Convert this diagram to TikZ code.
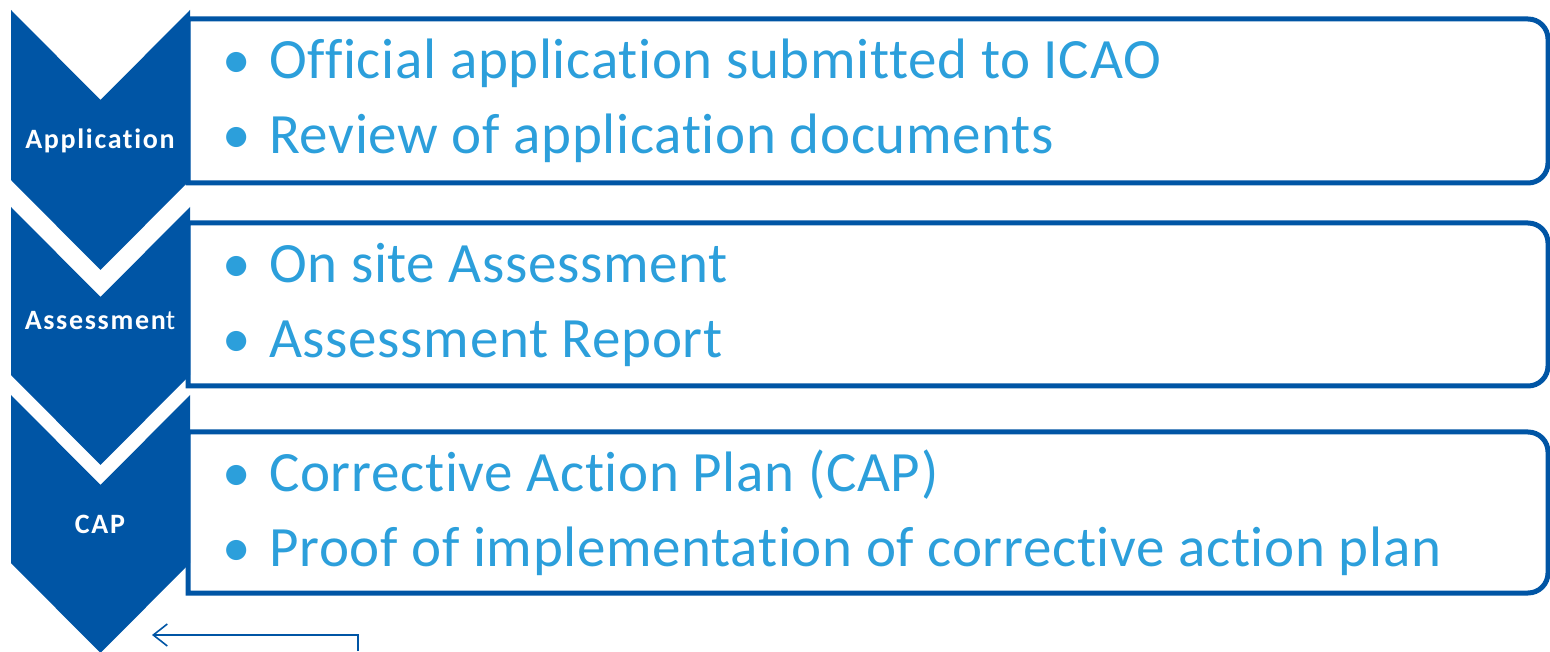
\documentclass[tikz,border=0pt]{standalone}
\usepackage{fontspec}
\setmainfont{Carlito}[Ligatures=NoCommon]
\usepackage{tikz}
\usetikzlibrary{arrows.meta}
\definecolor{chev}{HTML}{0055A5}
\definecolor{itemblue}{HTML}{2C9FDB}
\newcommand{\itembul}{\makebox[47pt][l]{\textbullet}}

\begin{document}
\begin{tikzpicture}[x=1pt, y=1pt,
    tag/.style={font=\fontsize{28}{30}\selectfont\bfseries\addfontfeature{LetterSpace=6}, text=white},
    itemtext/.style={font=\fontsize{57}{75}\selectfont\addfontfeature{LetterSpace=1.2}, text=itemblue, anchor=west, align=left, inner sep=0pt},
    frame/.style={draw=chev, line width=5pt},
    arrow/.style={-{Straight Barb[length=14pt, width=22pt]}, line width=1.6pt, color=chev}
]
\useasboundingbox (0,0) rectangle (1550,651);
% frames with rounded right corners
\draw[frame] (188,632) -- (1528,632) arc[start angle=90, end angle=0, radius=20pt] -- (1548,488) arc[start angle=0, end angle=-90, radius=20pt] -- (188,468) -- cycle;
\draw[frame] (188,428) -- (1528,428) arc[start angle=90, end angle=0, radius=20pt] -- (1548,285) arc[start angle=0, end angle=-90, radius=20pt] -- (188,265) -- cycle;
\draw[frame] (188,219) -- (1528,219) arc[start angle=90, end angle=0, radius=20pt] -- (1548,78) arc[start angle=0, end angle=-90, radius=20pt] -- (188,58) -- cycle;
% chevrons
\fill[chev] (11,641) -- (100.5,551) -- (190,641) -- (190,471) -- (100.5,381) -- (11,471) -- cycle;
\fill[chev] (11,444) -- (100.5,354) -- (190,444) -- (190,276) -- (100.5,186) -- (11,276) -- cycle;
\fill[chev] (11,256) -- (100.5,166) -- (190,256) -- (190,88) -- (100.5,-2) -- (11,88) -- cycle;
\node[tag] (appl) at (100,510) {Application};
\node[tag] (asse) at (100,330) {Assessmen\mdseries t};
\node[tag] (cap) at (100,127) {CAP};
% bullet lists
\node[itemtext] (list1) at (222,550) {\itembul Official application submitted to ICAO\\\itembul Review of application documents};
\node[itemtext] (list2) at (222,346) {\itembul On site Assessment\\\itembul Assessment Report};
\node[itemtext] (list3) at (222,138) {\itembul Corrective Action Plan (CAP)\\\itembul Proof of implementation of corrective action plan};
\coordinate (loopfoot) at (358,0);
\coordinate (looptip) at (152,16);
\draw[arrow] (loopfoot) |- (looptip);
\end{tikzpicture}
\end{document}
